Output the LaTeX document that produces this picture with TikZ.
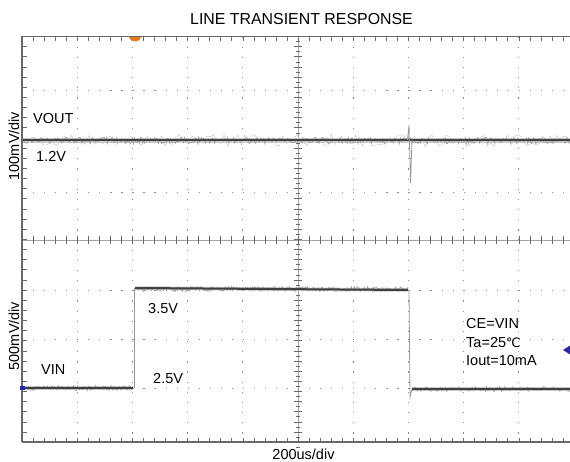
\documentclass[tikz,border=0pt]{standalone}
\usepackage{fontspec}
\setmainfont{Liberation Sans}
\newfontfamily\degfont{DejaVu Sans}
\definecolor{scopegray}{RGB}{105,105,105}
\definecolor{dotgray}{RGB}{140,140,140}
\definecolor{markorange}{RGB}{230,120,30}
\definecolor{markblue}{RGB}{40,40,170}
\tikzset{
    scope frame/.style={draw=scopegray, line width=1.8pt},
    grid dots/.style={draw=dotgray, line width=0.9pt},
    axis line/.style={draw=dotgray!80, line width=0.7pt},
    tick line/.style={draw=scopegray, line width=0.6pt},
    haze/.style={draw=black!20, line width=5pt},
    band/.style={draw=black!38, line width=0.7pt},
    spikes/.style={draw=black!20, line width=0.5pt},
    trace/.style={draw=black!75, line width=2pt},
    edge/.style={draw=black!40, line width=0.8pt},
    lbl/.style={font=\fontsize{14.5}{17}\selectfont, inner sep=0pt, anchor=base west},
}
\begin{document}
\begin{tikzpicture}[x=1pt, y=-1pt]
\useasboundingbox (0,0) rectangle (570,462);
\pgfmathsetseed{11}

% grid
\foreach \gy in {90.5,141,192,290,339,388}
    \draw[grid dots, dash pattern=on 1.2pt off 9.84pt] (22,\gy) -- (574,\gy);
\foreach \i in {1,...,4,6,7,8,9}
    \draw[grid dots, dash pattern=on 1.2pt off 8.95pt] ({22+55.2*\i},36.5) -- ({22+55.2*\i},442);
\draw[axis line] (22,240) -- (574,240);
\draw[axis line] (298,36.5) -- (298,442);
\foreach \k in {0,...,50} {
    \draw[tick line] ({22+11.04*\k},236) -- ({22+11.04*\k},244);
    \draw[tick line] ({22+11.04*\k},37.5) -- ({22+11.04*\k},41);
    \draw[tick line] ({22+11.04*\k},441) -- ({22+11.04*\k},437.5);
}
\foreach \k in {0,...,40} {
    \draw[tick line] (294,{36.5+10.14*\k}) -- (302,{36.5+10.14*\k});
    \draw[tick line] (296,{41.6+10.14*\k}) -- (300,{41.6+10.14*\k});
    \draw[tick line] (23,{36.5+10.14*\k}) -- (26.5,{36.5+10.14*\k});
}
\draw[scope frame] (22,442) -- (22,36.5) -- (574,36.5);
\draw[scope frame] (22,442) -- (574,442);

% VOUT
\draw[haze] (23,140.5) -- (574,140.5);
\draw[spikes] plot[domain=23:574, samples=160] (\x,{140.5+6*rand});
\draw[band] plot[domain=23:574, samples=550] (\x,{140.5+3.2*rand});
\draw[trace] (23,140.5) -- (574,140.5);
\draw[edge] (407.5,140) -- (409,125) -- (410.5,183) -- (412,140);

% VIN
\draw[edge] (134,388) -- (134,288);
\draw[edge] (409,290) -- (410,397) -- (412,389);
\draw[haze, line width=3.5pt] (23,388) -- (133,388);
\draw[haze, line width=3.5pt] (135,288) -- (408,290);
\draw[haze, line width=3.5pt] (412,389) -- (574,389);
\draw[band] plot[domain=23:133, samples=110] (\x,{388+2.4*rand});
\draw[band] plot[domain=135:408, samples=270] (\x,{289+2.4*rand});
\draw[band] plot[domain=412:574, samples=160] (\x,{389+2.4*rand});
\draw[trace] (23,388) -- (133,388);
\draw[trace] (135,288) -- (408,290);
\draw[trace] (412,389) -- (574,389);

% markers
\fill[markorange] (129,37.5) .. controls (129,43) and (141,43) .. (141,37.5) -- cycle;
\fill[markblue] (20,386) rectangle (25,390);
\fill[markblue] (563,350) -- (570,345.5) -- (570,354.5) -- cycle;

% texts
\node[font=\fontsize{15.9}{18}\selectfont, inner sep=0pt, anchor=base] (title) at (301.5,25) {LINE TRANSIENT RESPONSE};
\node[lbl] (vout) at (33,124) {VOUT};
\node[lbl] (voutlevel) at (36,161.5) {1.2V};
\node[lbl] (vin) at (41,374) {VIN};
\node[lbl] (vinhigh) at (148,313) {3.5V};
\node[lbl] (vinlow) at (153,383) {2.5V};
\node[lbl] (cond1) at (466,328) {CE=VIN};
\node[lbl] (cond2) at (466,347) {Ta=25{\degfont\fontsize{13}{15}\selectfont ℃}};
\node[lbl] (cond3) at (466,365.5) {Iout=10mA};
\node[lbl, anchor=base] (timediv) at (303.5,459) {200us/div};
\node[lbl, anchor=center, rotate=90] (voutdiv) at (14,146) {100mV/div};
\node[lbl, anchor=center, rotate=90] (vindiv) at (14,336) {500mV/div};
\end{tikzpicture}
\end{document}
